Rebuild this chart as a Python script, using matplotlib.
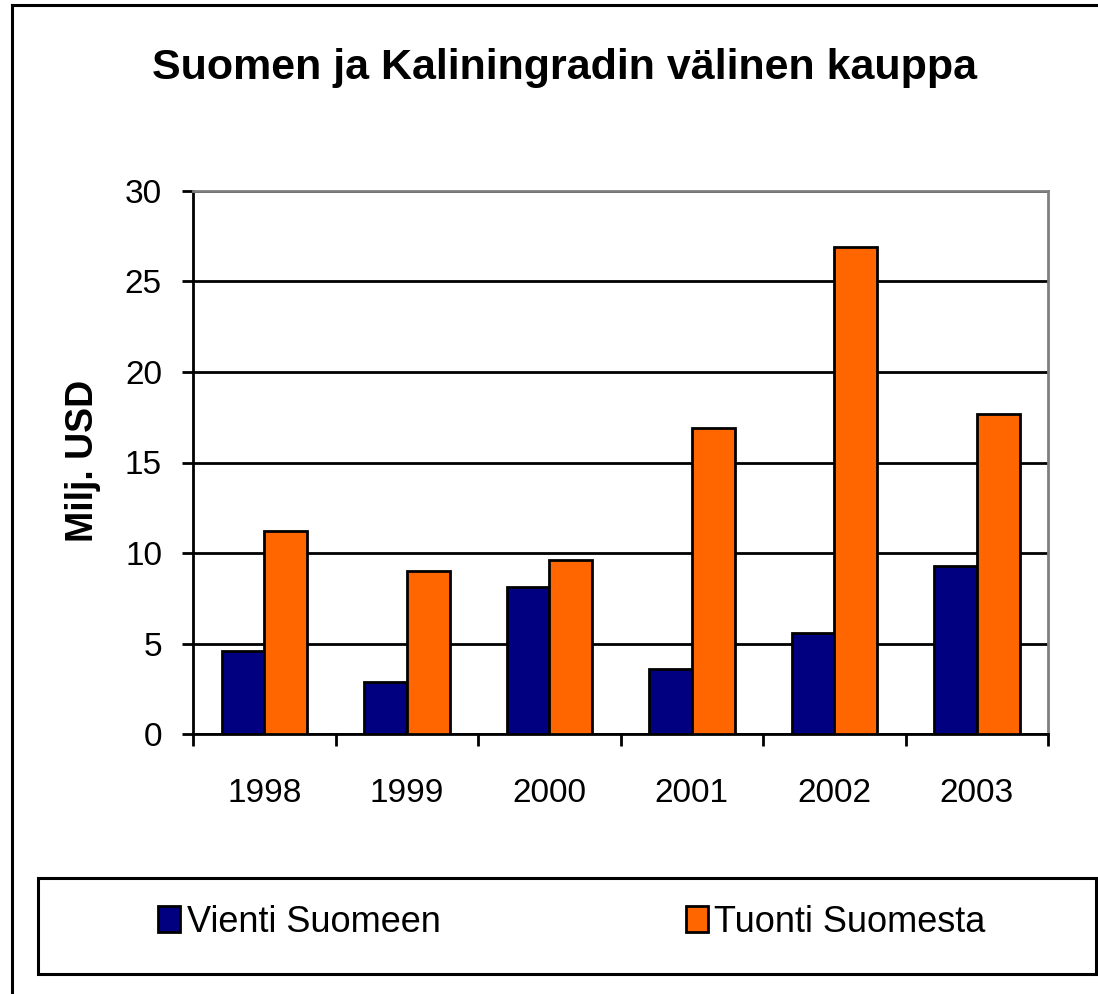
"""Suomen ja Kaliningradin välinen kauppa: grouped bars per year."""

import matplotlib
matplotlib.use("Agg")
import matplotlib.pyplot as plt
import matplotlib.lines as mlines
import matplotlib.patches as mpatches
import numpy as np

years = ["1998", "1999", "2000", "2001", "2002", "2003"]
vienti = [4.6, 2.9, 8.1, 3.6, 5.6, 9.3]
tuonti = [11.2, 9.0, 9.6, 16.9, 26.9, 17.7]
labels = ["Vienti Suomeen", "Tuonti Suomesta"]
yticks = [0, 5, 10, 15, 20, 25, 30]

NAVY = "#000080"
ORANGE = "#FF6600"
LW = 2.0
PX = 72 / 100  # points per pixel at dpi 100

plt.rcParams["font.family"] = ["Liberation Sans", "DejaVu Sans"]

fig = plt.figure(figsize=(10.98, 9.94), dpi=100)
ax = fig.add_axes([193 / 1098, 1 - 734 / 994, 855 / 1098, 543 / 994])

x = np.arange(len(years))
w = 0.3
ax.bar(x - w / 2, vienti, w, color=NAVY, edgecolor="black", linewidth=LW,
       label=labels[0], zorder=3)
ax.bar(x + w / 2, tuonti, w, color=ORANGE, edgecolor="black", linewidth=LW,
       label=labels[1], zorder=3)

ax.set_xlim(-0.5, len(years) - 0.5)
ax.set_ylim(0, 30)
ax.set_yticks(yticks)
ax.set_yticklabels([str(t) for t in yticks], fontsize=24)
ax.set_xticks(x)
ax.set_xticklabels(years, fontsize=24)
ax.set_xticks(np.arange(len(years) + 1) - 0.5, minor=True)
ax.tick_params(axis="x", which="major", length=0, pad=44 * PX)
ax.tick_params(axis="x", which="minor", length=12 * PX, width=LW, direction="out")
ax.tick_params(axis="y", length=11 * PX, width=LW, direction="out", pad=20 * PX)

ax.yaxis.grid(True, color="black", linewidth=LW, zorder=1)
ax.set_axisbelow(True)
for side in ("left", "bottom"):
    ax.spines[side].set_color("black")
    ax.spines[side].set_linewidth(LW)
for side in ("top", "right"):
    ax.spines[side].set_color("#808080")
    ax.spines[side].set_linewidth(LW)

ax.set_ylabel("Milj. USD", fontsize=27, fontweight="bold")
ax.yaxis.set_label_coords((101 - 193) / 855, (734 - 461) / 543)

fig.text(565 / 1098, 1 - 79 / 994, "Suomen ja Kaliningradin välinen kauppa",
         ha="center", va="baseline", fontsize=31, fontweight="bold")

# outer chart border (right and bottom are cropped in the original)
fig.add_artist(mlines.Line2D([12 / 1098, 12 / 1098], [0, 1 - 5 / 994],
                             color="black", linewidth=2.2))
fig.add_artist(mlines.Line2D([12 / 1098, 1], [1 - 5 / 994, 1 - 5 / 994],
                             color="black", linewidth=2.2))

# legend box
fig.add_artist(mpatches.Rectangle((38 / 1098, 1 - 974 / 994), 1058 / 1098, 96 / 994,
                                  transform=fig.transFigure, fill=False,
                                  edgecolor="black", linewidth=2.2))
handles, lbls = ax.get_legend_handles_labels()
fig.legend(handles, lbls, loc="center", bbox_to_anchor=(572 / 1098, 1 - 922 / 994),
           ncol=2, frameon=False, fontsize=26, columnspacing=6.8,
           handlelength=0.6, handleheight=0.75, handletextpad=0.18)

fig.savefig("out.png", dpi=100)
